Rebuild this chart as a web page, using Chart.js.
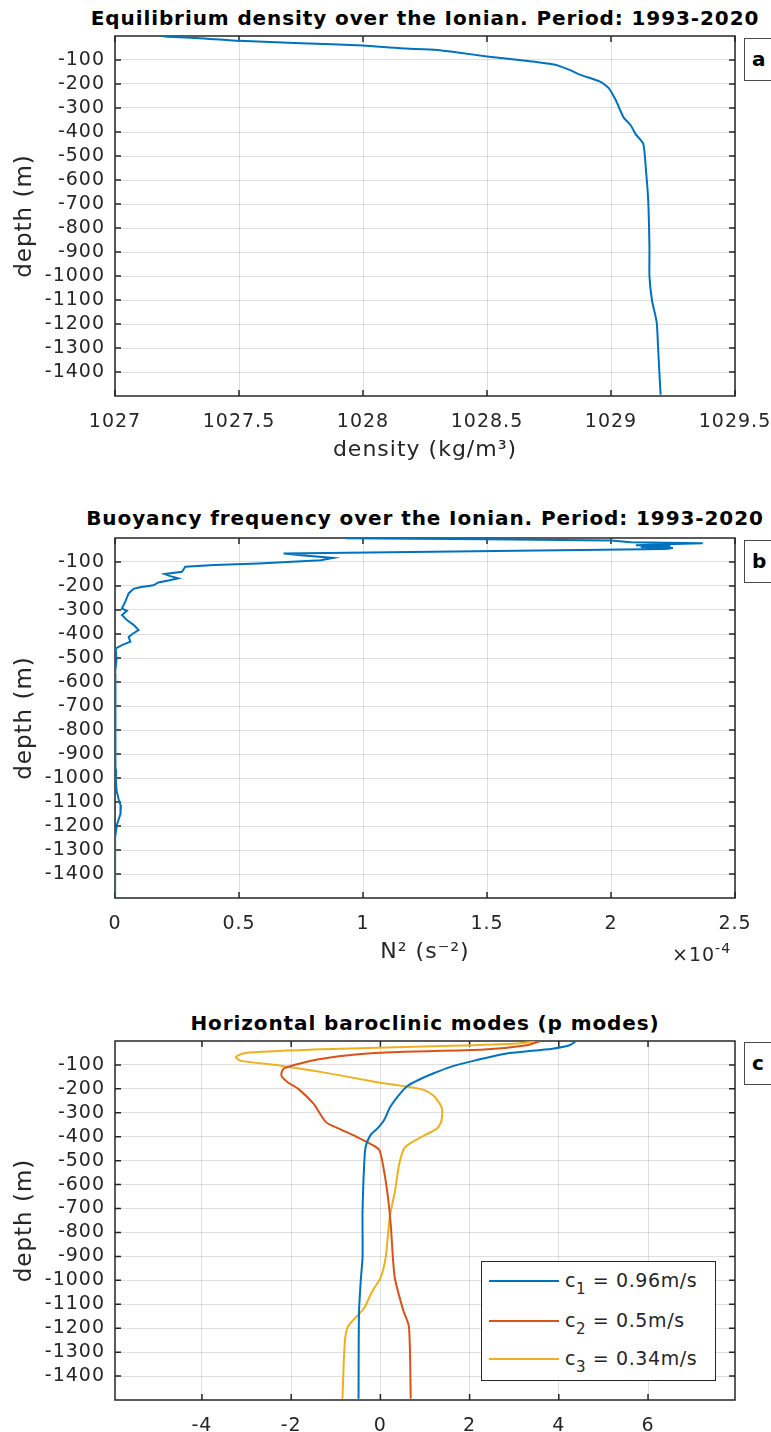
<!DOCTYPE html>
<html>
<head>
<meta charset="utf-8">
<script src="https://cdn.jsdelivr.net/npm/chart.js@4.4.1/dist/chart.umd.min.js"></script>
<style>
    html, body { margin: 0; padding: 0; background: #fff; overflow: hidden; }
    body { width: 771px; height: 1432px; position: relative; font-family: 'DejaVu Sans', sans-serif; color: #262626; }
    canvas { position: absolute; left: 0; }
    .ptitle { position: absolute; left: 425px; transform: translate(-50%, -50%); font-weight: bold; font-size: 20px; letter-spacing: 0.9px; white-space: nowrap; color: #000; }
    .tag { position: absolute; left: 744px; width: 40px; height: 43px; border: 1.5px solid #4a4a4a; box-sizing: border-box; background: #fff;
           font-weight: bold; font-size: 20px; line-height: 40px; padding-left: 7px; color: #000; }
    .expo { position: absolute; left: 672px; top: 940px; font-size: 19px; letter-spacing: 1px; color: #262626; white-space: nowrap; }
    .expo sup { font-size: 14px; vertical-align: 8px; }
    #legend { position: absolute; left: 481px; top: 1261px; width: 235px; height: 120px; border: 1.5px solid #262626; box-sizing: border-box; background: #fff; }
    #legend .row { position: absolute; left: 0; height: 0; }
    #legend .swatch { position: absolute; left: 7px; width: 70px; height: 0; border-top: 2px solid; top: -1px; }
    #legend .lab { position: absolute; left: 83px; top: -12px; font-size: 19px; letter-spacing: 0.6px; white-space: nowrap; color: #262626; }
    #legend sub { font-size: 15px; vertical-align: -7px; }
</style>
</head>
<body>
<div class="ptitle" style="top:18px">Equilibrium density over the Ionian. Period: 1993-2020</div>
<div class="ptitle" style="top:518px">Buoyancy frequency over the Ionian. Period: 1993-2020</div>
<div class="ptitle" style="top:1023px">Horizontal baroclinic modes (p modes)</div>

<canvas id="chartA" width="771" height="480" style="top:0px"></canvas>
<canvas id="chartB" width="771" height="480" style="top:502px"></canvas>
<canvas id="chartC" width="771" height="427" style="top:1005px"></canvas>

<div class="tag" style="top:38px">a</div>
<div class="tag" style="top:540px">b</div>
<div class="tag" style="top:1042px">c</div>
<div class="expo">×10<sup>-4</sup></div>
<div id="legend"></div>

<script>
// --- panel a: equilibrium density profile ---
const densityDepth = [-1, -3, -10, -20, -30, -40, -51, -58, -70, -85, -100, -119, -140, -161, -190, -216, -269, -338, -373, -410, -449, -546, -684, -879, -1000, -1100, -1170, -1200, -1300, -1400, -1495];
const densityValues = [1027.19, 1027.21, 1027.36, 1027.5, 1027.75, 1028.0, 1028.15, 1028.3, 1028.39, 1028.5, 1028.63, 1028.77, 1028.83, 1028.875, 1028.956, 1028.99, 1029.02, 1029.05, 1029.08, 1029.1, 1029.13, 1029.14, 1029.15, 1029.155, 1029.155, 1029.165, 1029.18, 1029.185, 1029.19, 1029.195, 1029.2];
const densityTicks = [1027, 1027.5, 1028, 1028.5, 1029, 1029.5];

// --- panel b: N^2 profile (x 1e-4 s^-2) ---
const n2Depth = [-1, -5, -10, -18, -22, -26, -30, -34, -38, -42, -46, -65, -72, -83, -93, -106, -113, -120, -133, -141, -150, -158, -168, -176, -185, -197, -205, -212, -231, -266, -294, -303, -321, -342, -362, -384, -400, -412, -432, -445, -460, -508, -564, -600, -703, -800, -952, -977, -1000, -1050, -1090, -1118, -1150, -1194, -1250, -1350, -1495];
const n2Values = [0.93, 1.5, 2.0, 2.08, 2.37, 2.22, 2.10, 2.24, 2.12, 2.25, 2.22, 0.68, 0.75, 0.88, 0.83, 0.578, 0.40, 0.283, 0.275, 0.27, 0.20, 0.22, 0.255, 0.22, 0.175, 0.155, 0.10, 0.075, 0.055, 0.041, 0.028, 0.048, 0.028, 0.048, 0.075, 0.095, 0.07, 0.055, 0.062, 0.03, 0.003, 0.006, 0.0, 0.004, 0.002, 0.001, 0.0, 0.005, 0.003, 0.006, 0.015, 0.024, 0.022, 0.008, 0.0, 0.001, 0.0];
const n2Ticks = [0, 0.5, 1, 1.5, 2, 2.5];

// --- panel c: baroclinic p modes ---
const mode1Depth = [-1, -18, -32, -53, -81, -109, -136, -164, -189, -227, -276, -331, -366, -390, -428, -470, -707, -902, -1000, -1138, -1495];
const mode1Values = [4.38, 4.24, 3.86, 2.80, 2.13, 1.56, 1.18, 0.84, 0.60, 0.41, 0.22, 0.08, -0.07, -0.21, -0.31, -0.35, -0.40, -0.40, -0.44, -0.48, -0.49];
const mode2Depth = [-1, -18, -36, -46, -56, -74, -98, -116, -144, -172, -200, -262, -339, -366, -399, -436, -457, -541, -653, -762, -985, -1124, -1194, -1495];
const mode2Values = [3.57, 3.28, 2.33, 0.41, -0.55, -1.31, -1.89, -2.17, -2.22, -2.08, -1.84, -1.50, -1.22, -0.93, -0.55, -0.16, -0.02, 0.08, 0.17, 0.23, 0.32, 0.51, 0.64, 0.68];
const mode3Depth = [-1, -10, -21, -36, -50, -67, -83, -102, -130, -172, -200, -227, -276, -331, -366, -394, -436, -457, -526, -624, -735, -902, -992, -1041, -1111, -1145, -1194, -1264, -1495];
const mode3Values = [3.47, 3.09, 1.37, -1.50, -3.03, -3.24, -3.13, -2.27, -1.31, -0.07, 0.89, 1.18, 1.37, 1.37, 1.27, 0.99, 0.60, 0.51, 0.41, 0.33, 0.21, 0.12, 0.0, -0.17, -0.35, -0.50, -0.73, -0.80, -0.85];
const modeSpeeds = ['0.96', '0.5', '0.34'];
const modeTicks = [-4, -2, 0, 2, 4, 6];

const depthTicks = [-100, -200, -300, -400, -500, -600, -700, -800, -900, -1000, -1100, -1200, -1300, -1400];

const BLUE = '#0072BD', ORANGE = '#D95319', YELLOW = '#EDB120';
const AXIS = '#262626';
const GRID = 'rgba(38,38,38,0.15)';

Chart.defaults.font.family = "'DejaVu Sans', sans-serif";
Chart.defaults.color = AXIS;

// the matlab export spreads its letters a little
Chart.register({
    id: 'letterSpacing',
    beforeLayout(chart) { chart.ctx.letterSpacing = '1px'; },
    beforeDraw(chart) { chart.ctx.letterSpacing = '1px'; }
});

const toPoints = (xs, ys) => xs.map((x, i) => ({ x: x, y: ys[i] }));

// matlab style box with inward ticks on all four sides
const boxPlugin = {
    id: 'matlabBox',
    beforeDatasetsDraw(chart) {
        const { ctx, chartArea: a, scales } = chart;
        ctx.save();
        ctx.strokeStyle = AXIS;
        ctx.lineWidth = 1.5;
        ctx.beginPath();
        scales.x.ticks.forEach(t => {
            const px = scales.x.getPixelForValue(t.value);
            ctx.moveTo(px, a.bottom); ctx.lineTo(px, a.bottom - 6);
            ctx.moveTo(px, a.top); ctx.lineTo(px, a.top + 6);
        });
        scales.y.ticks.forEach(t => {
            const py = scales.y.getPixelForValue(t.value);
            ctx.moveTo(a.left, py); ctx.lineTo(a.left + 6, py);
            ctx.moveTo(a.right, py); ctx.lineTo(a.right - 6, py);
        });
        ctx.stroke();
        ctx.strokeRect(a.left, a.top, a.right - a.left, a.bottom - a.top);
        ctx.restore();
    }
};

function profileChart(id, datasets, xOpts) {
    return new Chart(document.getElementById(id), {
        type: 'scatter',
        data: { datasets: datasets },
        options: {
            responsive: false,
            animation: false,
            layout: { padding: { top: 36, right: 36, left: 0, bottom: 0 } },
            plugins: { legend: { display: false }, tooltip: { enabled: false } },
            elements: { point: { radius: 0 } },
            scales: {
                x: {
                    type: 'linear',
                    min: xOpts.min,
                    max: xOpts.max,
                    afterBuildTicks: s => { s.ticks = xOpts.ticks.map(v => ({ value: v })); },
                    // fixed height, and the end labels may run past the plot edge like in matlab
                    afterFit: s => { s.height = xOpts.height; s.paddingLeft = 0; s.paddingRight = 0; },
                    grid: { color: GRID, drawTicks: false },
                    border: { display: false },
                    ticks: { padding: 15, font: { size: 19 }, color: AXIS, callback: v => String(v) },
                    title: {
                        display: !!xOpts.title,
                        text: xOpts.title || '',
                        font: { size: 22 },
                        color: AXIS,
                        padding: { top: 0, bottom: 16.8 }
                    }
                },
                y: {
                    type: 'linear',
                    min: -1500,
                    max: 0,
                    afterBuildTicks: s => { s.ticks = depthTicks.map(v => ({ value: v })); },
                    afterFit: s => { s.width = 115; s.paddingTop = 0; s.paddingBottom = 0; },
                    grid: { color: GRID, drawTicks: false },
                    border: { display: false },
                    ticks: { padding: 10, font: { size: 19 }, color: AXIS, callback: v => String(v) },
                    title: {
                        display: true,
                        text: 'depth (m)',
                        font: { size: 23 },
                        color: AXIS,
                        padding: { top: 11.2, bottom: 0 }
                    }
                }
            }
        },
        plugins: [boxPlugin]
    });
}

const lineStyle = (color, tension) => ({
    showLine: true, borderColor: color, backgroundColor: color, borderWidth: 2, pointRadius: 0, tension: tension
});

profileChart('chartA', [
    Object.assign({ label: 'density', data: toPoints(densityValues, densityDepth) }, lineStyle(BLUE, 0.2))
], { min: 1027, max: 1029.5, ticks: densityTicks, height: 84, title: 'density (kg/m³)' });

profileChart('chartB', [
    Object.assign({ label: 'N2', data: toPoints(n2Values, n2Depth) }, lineStyle(BLUE, 0))
], { min: 0, max: 2.5, ticks: n2Ticks, height: 84, title: 'N² (s⁻²)' });

const modeColors = [BLUE, ORANGE, YELLOW];
profileChart('chartC', [
    Object.assign({ label: 'c1', data: toPoints(mode1Values, mode1Depth) }, lineStyle(BLUE, 0.25)),
    Object.assign({ label: 'c2', data: toPoints(mode2Values, mode2Depth) }, lineStyle(ORANGE, 0.25)),
    Object.assign({ label: 'c3', data: toPoints(mode3Values, mode3Depth) }, lineStyle(YELLOW, 0.25))
], { min: -5.95, max: 7.95, ticks: modeTicks, height: 32, title: '' });

// legend for panel c
const legend = document.getElementById('legend');
const rowTops = [19, 59, 97];
modeSpeeds.forEach((sp, i) => {
    const row = document.createElement('div');
    row.className = 'row';
    row.style.top = rowTops[i] + 'px';
    row.innerHTML = `<div class="swatch" style="border-color:${modeColors[i]}"></div>` +
        `<div class="lab">c<sub>${i + 1}</sub> = ${sp}m/s</div>`;
    legend.appendChild(row);
});
</script>
</body>
</html>
